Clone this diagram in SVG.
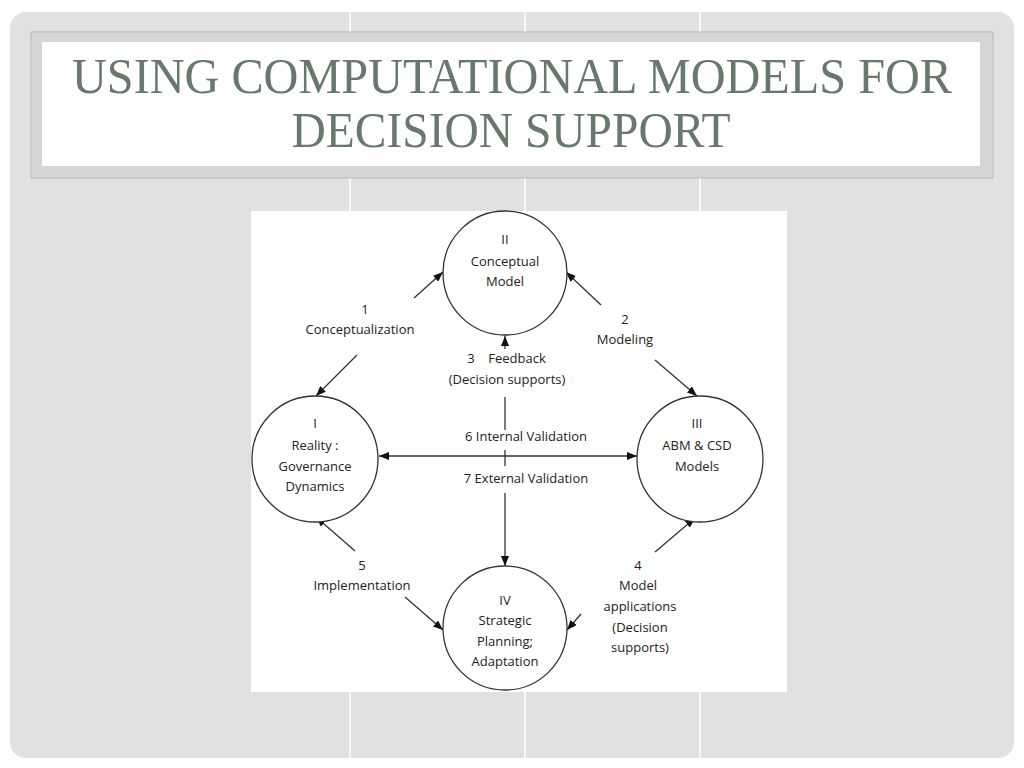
<svg xmlns="http://www.w3.org/2000/svg" width="1024" height="768" viewBox="0 0 1024 768">
<style>
.t{font-family:"Open Sans","Noto Sans","Liberation Sans",sans-serif;font-size:13px;fill:#222;text-anchor:middle}
.node{fill:#fff;stroke:#333;stroke-width:1.3}
.ln{stroke:#333;stroke-width:1.3;fill:none}
.title{font-family:"Liberation Serif","DejaVu Serif",serif;font-size:50px;fill:#67786c;text-anchor:middle}
</style>
<defs>
<marker id="ah" viewBox="0 0 10 8" refX="10" refY="4" markerWidth="10" markerHeight="8" markerUnits="userSpaceOnUse" orient="auto-start-reverse">
<path d="M0,0 L10,4 L0,8 z" fill="#111"/>
</marker>
</defs>
<rect width="1024" height="768" fill="#fff"/>
<rect x="10" y="12" width="1004" height="746" rx="16" fill="#e1e1e1"/>
<g stroke="#fff" stroke-width="1.5">
<line x1="350" y1="12" x2="350" y2="758"/>
<line x1="525" y1="12" x2="525" y2="758"/>
<line x1="700" y1="12" x2="700" y2="758"/>
</g>
<rect x="31" y="32" width="962" height="146" fill="#d6d6d6" stroke="#b8b8b8" stroke-width="1"/>
<rect x="42" y="42" width="938" height="124" fill="#fff"/>
<text class="title" x="512" y="93" textLength="880" lengthAdjust="spacingAndGlyphs">USING COMPUTATIONAL MODELS FOR</text>
<text class="title" x="511" y="147" textLength="439" lengthAdjust="spacingAndGlyphs">DECISION SUPPORT</text>
<rect x="251" y="211" width="536" height="481" fill="#fff"/>
<g id="connectors">
<line class="ln" x1="414" y1="298" x2="443" y2="272" marker-end="url(#ah)"/>
<line class="ln" x1="357" y1="355" x2="316" y2="396" marker-end="url(#ah)"/>
<line class="ln" x1="601" y1="305" x2="566" y2="272" marker-end="url(#ah)"/>
<line class="ln" x1="655" y1="360" x2="697" y2="396" marker-end="url(#ah)"/>
<line class="ln" x1="505" y1="349" x2="505" y2="336" marker-end="url(#ah)"/>
<line class="ln" x1="505" y1="397" x2="505" y2="430"/>
<line class="ln" x1="505" y1="450" x2="505" y2="466"/>
<line class="ln" x1="505" y1="493" x2="505" y2="566" marker-end="url(#ah)"/>
<line class="ln" x1="379" y1="456" x2="637" y2="456" marker-start="url(#ah)" marker-end="url(#ah)"/>
<line class="ln" x1="355" y1="551" x2="316" y2="517" marker-end="url(#ah)"/>
<line class="ln" x1="655" y1="552" x2="695" y2="518" marker-end="url(#ah)"/>
<line class="ln" x1="405" y1="597" x2="443" y2="630" marker-end="url(#ah)"/>
<line class="ln" x1="581" y1="614" x2="567" y2="630" marker-end="url(#ah)"/>
</g>
<g id="node-II">
<circle class="node" cx="505" cy="273" r="62"/>
<text class="t" x="505" y="244">II</text>
<text class="t" x="505" y="266">Conceptual</text>
<text class="t" x="505" y="286">Model</text>
</g>
<g id="node-I">
<circle class="node" cx="315" cy="459" r="63"/>
<text class="t" x="315" y="428">I</text>
<text class="t" x="315" y="450">Reality :</text>
<text class="t" x="315" y="471">Governance</text>
<text class="t" x="315" y="491">Dynamics</text>
</g>
<g id="node-III">
<circle class="node" cx="700" cy="459" r="63"/>
<text class="t" x="697" y="428">III</text>
<text class="t" x="697" y="450">ABM &amp; CSD</text>
<text class="t" x="697" y="471">Models</text>
</g>
<g id="node-IV">
<circle class="node" cx="505" cy="628" r="62"/>
<text class="t" x="505" y="605">IV</text>
<text class="t" x="505" y="625">Strategic</text>
<text class="t" x="505" y="646">Planning;</text>
<text class="t" x="505" y="666">Adaptation</text>
</g>
<g id="labels">
<text class="t" x="365" y="314">1</text>
<text class="t" x="360" y="334">Conceptualization</text>
<text class="t" x="625" y="324">2</text>
<text class="t" x="625" y="344">Modeling</text>
<text class="t" x="471" y="363">3</text>
<text class="t" x="517" y="363">Feedback</text>
<text class="t" x="507" y="384">(Decision supports)</text>
<text class="t" x="526" y="441">6 Internal Validation</text>
<text class="t" x="526" y="483">7 External Validation</text>
<text class="t" x="362" y="570">5</text>
<text class="t" x="362" y="590">Implementation</text>
<text class="t" x="638" y="570">4</text>
<text class="t" x="638" y="590">Model</text>
<text class="t" x="640" y="611">applications</text>
<text class="t" x="640" y="632">(Decision</text>
<text class="t" x="640" y="652">supports)</text>
</g>
</svg>
